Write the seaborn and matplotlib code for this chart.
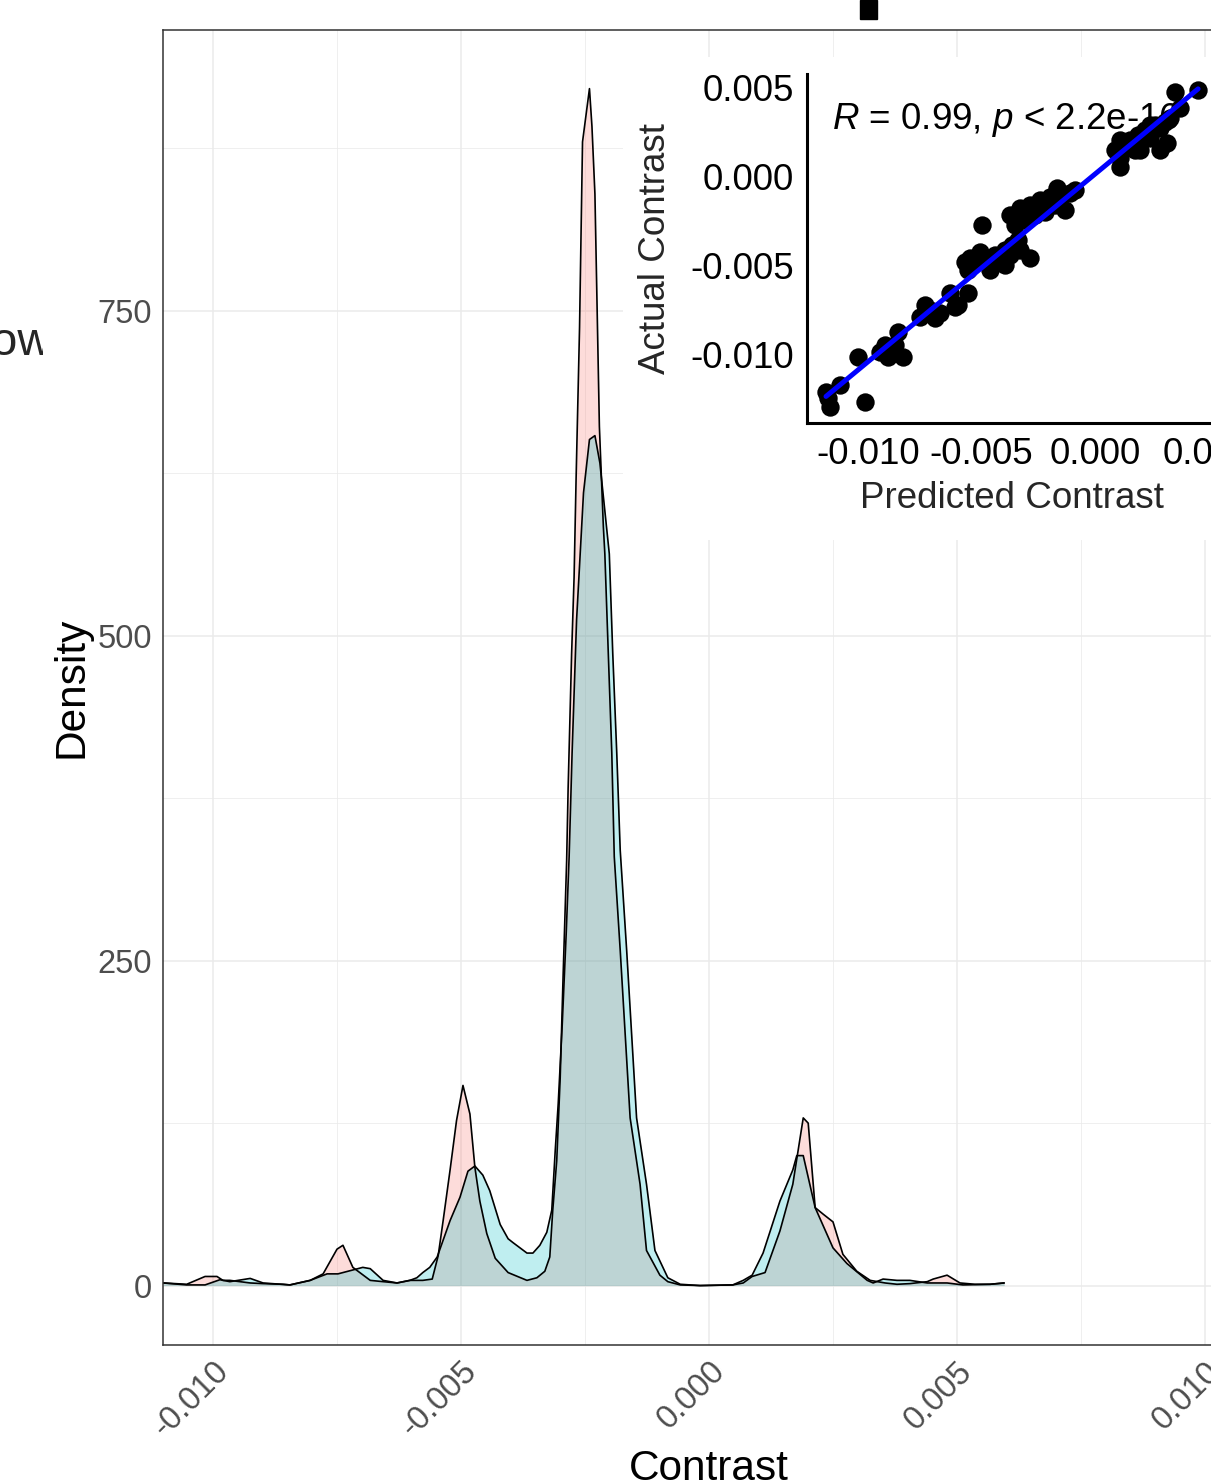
import matplotlib
matplotlib.use("Agg")
import matplotlib.pyplot as plt
from matplotlib.patches import Rectangle
import seaborn as sns

# =============================
# DATA
# =============================
# density curve 1 (pink)
pink_x = [-0.01100, -0.01053, -0.01016, -0.00992, -0.00980, -0.00966, -0.00925, -0.00899,
          -0.00859, -0.00845, -0.00804, -0.00778, -0.00750, -0.00738, -0.00718, -0.00683,
          -0.00657, -0.00629, -0.00603, -0.00577, -0.00558, -0.00546, -0.00536, -0.00522,
          -0.00509, -0.00496, -0.00482, -0.00472, -0.00462, -0.00448, -0.00431, -0.00405,
          -0.00367, -0.00347, -0.00331, -0.00321, -0.00315, -0.00307, -0.00300, -0.00294,
          -0.00287, -0.00284, -0.00277, -0.00272, -0.00268, -0.00261, -0.00255, -0.00241,
          -0.00236, -0.00230, -0.00221, -0.00213, -0.00210, -0.00203, -0.00196, -0.00191,
          -0.00179, -0.00159, -0.00139, -0.00126, -0.00099, -0.00083, -0.00058, -0.00018,
          0.00048, 0.00069, 0.00087, 0.00113, 0.00143, 0.00169, 0.00190, 0.00200,
          0.00214, 0.00230, 0.00250, 0.00270, 0.00298, 0.00325, 0.00355, 0.00379,
          0.00405, 0.00440, 0.00452, 0.00480, 0.00506, 0.00536, 0.00567, 0.00595]
pink_y = [2, 1, 7, 7, 4, 4, 2, 1.5,
          1, 0.5, 4, 9, 28, 31, 14, 4,
          3, 2, 4, 4, 5, 23, 50, 89,
          127, 154, 132, 91, 65, 40, 21, 10,
          4, 6, 11, 22, 58, 96, 160, 240,
          327, 383, 486, 545, 620, 737, 880, 921,
          892, 840, 661, 584, 563, 486, 410, 330,
          258, 129, 78, 27, 8, 3, 0.5, 0,
          0.5, 2, 7, 10, 42, 78, 129, 125,
          60, 55, 49, 24, 11, 4, 2, 1,
          1.5, 3, 5, 8, 2, 1, 1, 2]

# density curve 2 (cyan)
cyan_x = [-0.01100, -0.01053, -0.01016, -0.00986, -0.00966, -0.00925, -0.00899, -0.00845,
          -0.00804, -0.00770, -0.00748, -0.00718, -0.00698, -0.00683, -0.00657, -0.00629,
          -0.00603, -0.00589, -0.00577, -0.00563, -0.00548, -0.00522, -0.00502, -0.00486,
          -0.00472, -0.00456, -0.00442, -0.00421, -0.00405, -0.00395, -0.00367, -0.00355,
          -0.00341, -0.00327, -0.00317, -0.00310, -0.00304, -0.00296, -0.00288, -0.00282,
          -0.00276, -0.00267, -0.00253, -0.00241, -0.00230, -0.00220, -0.00201, -0.00194,
          -0.00186, -0.00179, -0.00166, -0.00146, -0.00126, -0.00109, -0.00083, -0.00058,
          -0.00018, 0.00048, 0.00069, 0.00087, 0.00109, 0.00143, 0.00169, 0.00177,
          0.00190, 0.00214, 0.00250, 0.00278, 0.00319, 0.00331, 0.00351, 0.00379,
          0.00405, 0.00440, 0.00480, 0.00512, 0.00567, 0.00595]
cyan_y = [2, 0.5, 0.5, 4.5, 3, 5.5, 2, 0.5,
          4, 9, 9, 12, 14, 13, 4, 2,
          4, 6, 10, 14, 22, 50, 68, 88,
          92, 85, 73, 47, 36, 33, 25, 25,
          31, 41, 58, 104, 140, 200, 270, 330,
          410, 512, 610, 651, 654, 633, 563, 486,
          410, 335, 258, 129, 78, 27, 6, 1,
          0, 0.5, 4, 8, 25, 65, 89, 100,
          100, 60, 29, 17, 4, 2, 5, 4,
          4, 2, 2, 0.5, 1, 2]

# inset scatter: predicted vs actual contrast
predicted = [-0.01185, -0.01176, -0.01167, -0.01013, -0.01123, -0.01044, -0.00947, -0.00912,
             -0.00881, -0.00846, -0.00868, -0.00925, -0.00771, -0.00727, -0.00683, -0.00617,
             -0.00639, -0.00559, -0.00749, -0.00705, -0.00604, -0.00559, -0.00529, -0.00485,
             -0.00441, -0.00396, -0.00366, -0.00339, -0.00551, -0.00507, -0.00419, -0.00374,
             -0.00463, -0.00498, -0.00286, -0.00374, -0.00330, -0.00286, -0.00242, -0.00198,
             -0.00154, -0.00110, -0.00352, -0.00308, -0.00220, -0.00176, -0.00264, -0.00167,
             -0.00088, -0.00132, -0.00573, -0.00396, -0.00330,
             0.00088, 0.00110, 0.00132, 0.00154, 0.00189, 0.00220, 0.00242, 0.00264,
             0.00286, 0.00308, 0.00330, 0.00317, 0.00198, 0.00286, 0.00352, 0.00454,
             0.00374, 0.00110, 0.00242, 0.00176, 0.00110]
actual = [-0.01208, -0.01242, -0.01292, -0.01264, -0.01169, -0.01011, -0.00983, -0.01011,
          -0.00944, -0.01011, -0.00871, -0.00944, -0.00787, -0.00747, -0.00764, -0.00730,
          -0.00652, -0.00652, -0.00719, -0.00792, -0.00719, -0.00522, -0.00478, -0.00466,
          -0.00438, -0.00410, -0.00382, -0.00354, -0.00455, -0.00421, -0.00478, -0.00438,
          -0.00522, -0.00270, -0.00455, -0.00213, -0.00174, -0.00157, -0.00129, -0.00112,
          -0.00101, -0.00090, -0.00270, -0.00242, -0.00197, -0.00157, -0.00213, -0.00062,
          -0.00073, -0.00185, -0.00478, -0.00494, -0.00410,
          0.00152, 0.00107, 0.00180, 0.00208, 0.00236, 0.00264, 0.00219, 0.00292,
          0.00275, 0.00309, 0.00331, 0.00191, 0.00152, 0.00152, 0.00478, 0.00489,
          0.00388, 0.00208, 0.00292, 0.00152, 0.00056]

x_ticks = [-0.010, -0.005, 0.000, 0.005, 0.010]
x_minor = [-0.0075, -0.0025, 0.0025, 0.0075]
y_ticks = [0, 250, 500, 750]
y_minor = [125, 375, 625, 875]
inset_ticks = [-0.010, -0.005, 0.000, 0.005]

# =============================
# STYLE
# =============================
W, H = 1211, 1480


def px_box(x0, y0, x1, y1):
    return [x0 / W, 1 - y1 / H, (x1 - x0) / W, (y1 - y0) / H]


sns.set_style("white")
plt.rcParams["font.family"] = ["Liberation Sans", "DejaVu Sans"]
plt.rcParams["axes.unicode_minus"] = False
plt.rcParams["mathtext.fontset"] = "custom"
plt.rcParams["mathtext.it"] = "Liberation Sans:italic"
plt.rcParams["mathtext.rm"] = "Liberation Sans"

fig = plt.figure(figsize=(W / 100, H / 100), dpi=100)

# =============================
# MAIN DENSITY PANEL
# =============================
ax = fig.add_axes(px_box(163.4, 29.5, 1254.6, 1344.7))
ax.fill_between(pink_x, pink_y, color="#F8766D", alpha=0.25, lw=0)
sns.lineplot(x=pink_x, y=pink_y, color="black", lw=1.2, ax=ax, sort=False)
ax.fill_between(cyan_x, cyan_y, color="#00BFC4", alpha=0.25, lw=0)
sns.lineplot(x=cyan_x, y=cyan_y, color="black", lw=1.2, ax=ax, sort=False)

ax.set_xlim(-0.011, 0.011)
ax.set_ylim(-45.5, 966.5)
ax.set_xticks(x_ticks)
ax.set_xticks(x_minor, minor=True)
ax.set_yticks(y_ticks)
ax.set_yticks(y_minor, minor=True)
ax.set_xticklabels([f"{v:.3f}" for v in x_ticks], rotation=45, ha="right",
                   va="top", rotation_mode="anchor")
ax.set_yticklabels([str(v) for v in y_ticks])
ax.set_axisbelow(True)
ax.grid(True, which="major", color="#EBEBEB", lw=1.1)
ax.grid(True, which="minor", color="#EBEBEB", lw=0.55)
for s in ax.spines.values():
    s.set_visible(True)
    s.set_color("#333333")
    s.set_linewidth(1.1)
ax.tick_params(which="major", length=5, width=1.1, color="#333333",
               labelsize=23.5, labelcolor="#4D4D4D", pad=3)
ax.tick_params(which="minor", length=0)

ax.set_xlabel("Contrast", fontsize=30.5, color="black")
ax.set_ylabel("Density", fontsize=30.5, color="black")
ax.xaxis.label.set_va("top")
ax.xaxis.set_label_coords(0.5, -0.0793)
ax.yaxis.label.set_va("center")
ax.yaxis.set_label_coords(-0.0838, 0.5)

# =============================
# INSET SCATTER
# =============================
bg = fig.add_axes(px_box(623, 57, 1300, 540))
bg.set_facecolor("white")
bg.set_xticks([])
bg.set_yticks([])
for s in bg.spines.values():
    s.set_visible(False)

ins = fig.add_axes(px_box(807.4, 74, 1216.7, 422.8))
ins.set_facecolor("white")
ins.text(-0.01159, 0.00318, r"$R$ = 0.99, $p$ < 2.2e-16", fontsize=26.5,
         ha="left", va="center", color="black", zorder=1)
sns.scatterplot(x=predicted, y=actual, color="black", s=175, linewidth=0,
                ax=ins, zorder=2)
sns.regplot(x=predicted, y=actual, scatter=False, ci=None, color="blue",
            line_kws=dict(lw=3.6, zorder=3), ax=ins)
ins.set_xlim(-0.01267, 0.00536)
ins.set_ylim(-0.01381, 0.00578)
ins.set_xticks(inset_ticks)
ins.set_yticks(inset_ticks)
ins.set_xticklabels([f"{v:.3f}" for v in inset_ticks])
ins.set_yticklabels([f"{v:.3f}" for v in inset_ticks])
for side in ["top", "right"]:
    ins.spines[side].set_visible(False)
for side in ["left", "bottom"]:
    ins.spines[side].set_visible(True)
    ins.spines[side].set_color("black")
    ins.spines[side].set_linewidth(2.2)
ins.tick_params(length=7, width=2.2, color="black", labelsize=26.5,
                labelcolor="black", pad=3)
ins.set_xlabel("Predicted Contrast", fontsize=26.5)
ins.set_ylabel("Actual Contrast", fontsize=26.5)
ins.xaxis.label.set_va("center")
ins.xaxis.set_label_coords(0.5, -0.2156)
ins.yaxis.label.set_va("center")
ins.yaxis.set_label_coords(-0.3723, 0.5)

# =============================
# CROPPED FRAGMENTS AT THE EDGES
# =============================
ow_ax = fig.add_axes(px_box(0, 300, 43, 380))
ow_ax.axis("off")
ow_ax.set_xlim(0, 43)
ow_ax.set_ylim(380, 300)
ow_ax.text(-8.7, 355, "ow", fontsize=34, ha="left", va="baseline", clip_on=True)

fig.add_artist(Rectangle((860 / W, 1 - 19 / H), 17 / W, 19 / H,
                         transform=fig.transFigure, color="black"))

fig.savefig("out.png", dpi=100)
